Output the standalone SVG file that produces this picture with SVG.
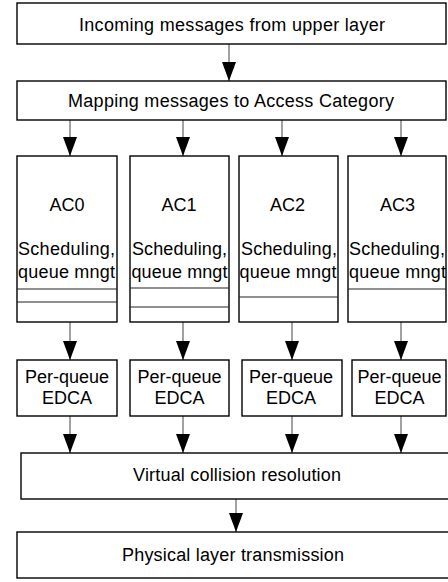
<svg xmlns="http://www.w3.org/2000/svg" width="448" height="582" viewBox="0 0 448 582">
<defs>
<style>
.box{fill:#fff;stroke:#000;stroke-width:1.4}
.sep{stroke:#222;stroke-width:1.1}
.t{font-family:"Liberation Sans",Arial,sans-serif;font-size:18px;fill:#000;text-anchor:middle}
.c{stroke:#555;stroke-width:1.1;fill:none;marker-end:url(#ah)}
</style>
<marker id="ah" markerUnits="userSpaceOnUse" viewBox="0 -8 20 16" refX="19" refY="0" markerWidth="20" markerHeight="16" orient="auto">
<path d="M0,-7 L19,0 L0,7 z" fill="#000"/>
</marker>
</defs>
<rect width="448" height="582" fill="#fff"/>
<g id="connectors">
<line class="c" x1="229" y1="44" x2="229" y2="81"/>
<line class="c" x1="70" y1="120" x2="70" y2="156"/>
<line class="c" x1="183" y1="120" x2="183" y2="156"/>
<line class="c" x1="282" y1="120" x2="282" y2="156"/>
<line class="c" x1="401" y1="120" x2="401" y2="156"/>
<line class="c" x1="70" y1="322" x2="70" y2="360"/>
<line class="c" x1="183" y1="322" x2="183" y2="360"/>
<line class="c" x1="292" y1="322" x2="292" y2="360"/>
<line class="c" x1="401" y1="322" x2="401" y2="360"/>
<line class="c" x1="70" y1="416" x2="70" y2="453"/>
<line class="c" x1="183" y1="416" x2="183" y2="453"/>
<line class="c" x1="292" y1="416" x2="292" y2="453"/>
<line class="c" x1="401" y1="416" x2="401" y2="453"/>
<line class="c" x1="236" y1="499" x2="236" y2="532"/>
</g>
<g id="incoming">
<rect class="box" x="17" y="3" width="429" height="41"/>
<text class="t" x="232" y="31" textLength="306" lengthAdjust="spacing">Incoming messages from upper layer</text>
</g>
<g id="mapping">
<rect class="box" x="17" y="81" width="429" height="39"/>
<text class="t" x="231" y="107" textLength="326" lengthAdjust="spacing">Mapping messages to Access Category</text>
</g>
<g id="ac0">
<rect class="box" x="17" y="156" width="100" height="166"/>
<line class="sep" x1="17" y1="289" x2="117" y2="289"/>
<line class="sep" x1="17" y1="302" x2="117" y2="302"/>
<text class="t" x="67" y="211">AC0</text>
<text class="t" x="66.5" y="255" textLength="97" lengthAdjust="spacing">Scheduling,</text>
<text class="t" x="66.5" y="278" textLength="97" lengthAdjust="spacing">queue mngt</text>
</g>
<g id="ac1">
<rect class="box" x="130" y="156" width="99" height="166"/>
<line class="sep" x1="130" y1="288" x2="229" y2="288"/>
<line class="sep" x1="130" y1="307" x2="229" y2="307"/>
<text class="t" x="179" y="211">AC1</text>
<text class="t" x="179.5" y="255" textLength="95" lengthAdjust="spacing">Scheduling,</text>
<text class="t" x="179.5" y="278" textLength="96" lengthAdjust="spacing">queue mngt</text>
</g>
<g id="ac2">
<rect class="box" x="239" y="156" width="99" height="166"/>
<line class="sep" x1="239" y1="297" x2="338" y2="297"/>
<text class="t" x="287.5" y="211">AC2</text>
<text class="t" x="289" y="255" textLength="96" lengthAdjust="spacing">Scheduling,</text>
<text class="t" x="288" y="278" textLength="97" lengthAdjust="spacing">queue mngt</text>
</g>
<g id="ac3">
<rect class="box" x="348" y="156" width="98" height="166"/>
<line class="sep" x1="348" y1="289" x2="446" y2="289"/>
<text class="t" x="397.5" y="211">AC3</text>
<text class="t" x="397" y="255" textLength="96" lengthAdjust="spacing">Scheduling,</text>
<text class="t" x="397.5" y="278" textLength="97" lengthAdjust="spacing">queue mngt</text>
</g>
<g id="edca0">
<rect class="box" x="17" y="360" width="100" height="56"/>
<text class="t" x="67" y="383">Per-queue</text>
<text class="t" x="67" y="404">EDCA</text>
</g>
<g id="edca1">
<rect class="box" x="130" y="360" width="99" height="56"/>
<text class="t" x="179.5" y="383">Per-queue</text>
<text class="t" x="179.5" y="404">EDCA</text>
</g>
<g id="edca2">
<rect class="box" x="242" y="360" width="100" height="56"/>
<text class="t" x="291" y="383">Per-queue</text>
<text class="t" x="291" y="404">EDCA</text>
</g>
<g id="edca3">
<rect class="box" x="352" y="360" width="94" height="56"/>
<text class="t" x="399.5" y="383">Per-queue</text>
<text class="t" x="399.5" y="404">EDCA</text>
</g>
<g id="virtual">
<rect class="box" x="21" y="453" width="440" height="46"/>
<text class="t" x="237" y="481" textLength="208" lengthAdjust="spacing">Virtual collision resolution</text>
</g>
<g id="physical">
<rect class="box" x="17" y="532" width="444" height="46"/>
<text class="t" x="233" y="561" textLength="222" lengthAdjust="spacing">Physical layer transmission</text>
</g>
</svg>
